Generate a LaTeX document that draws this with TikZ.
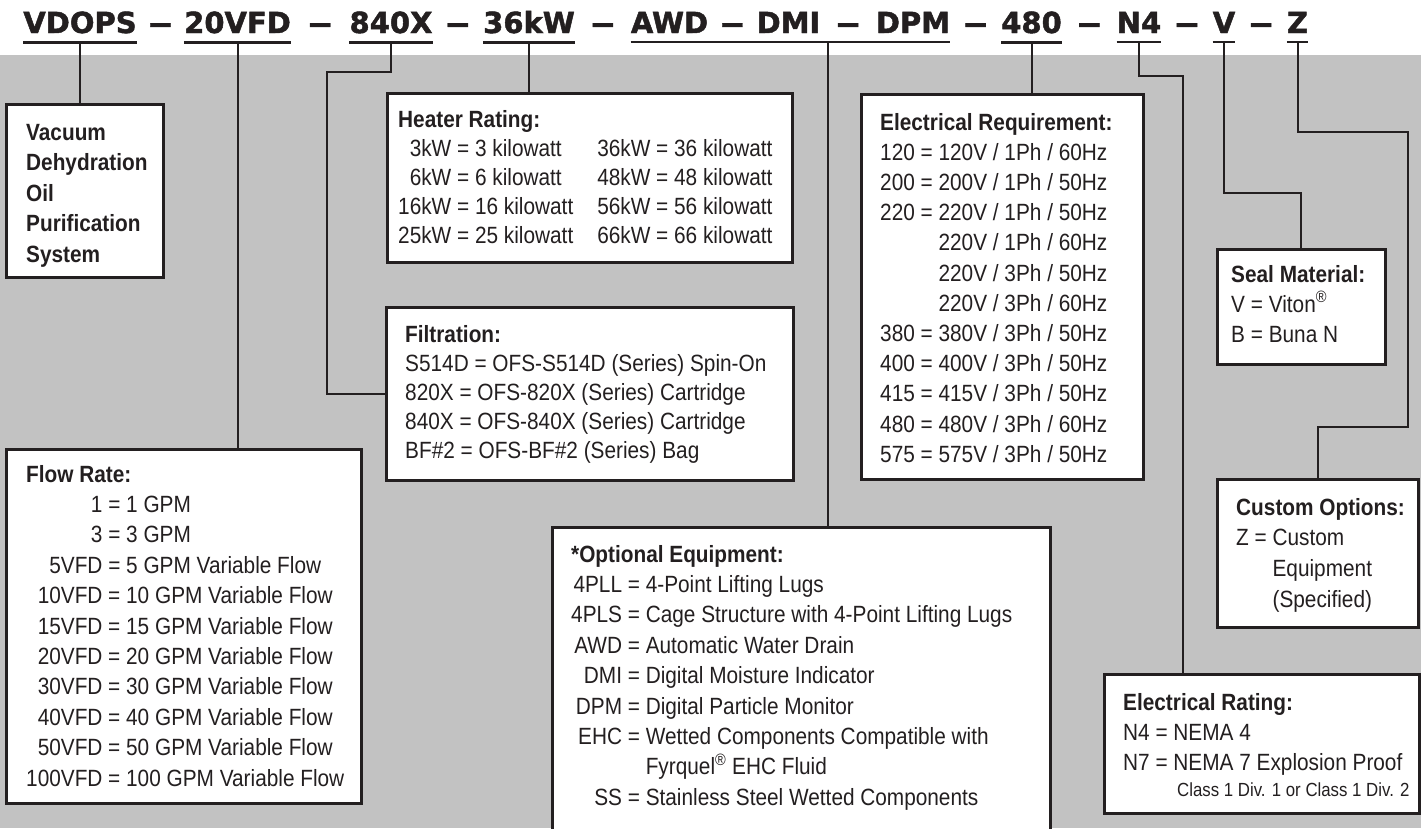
\documentclass[tikz,border=0pt]{standalone}
\usepackage{fontspec}
\usepackage{graphicx}
\setmainfont{Liberation Sans}[FakeStretch=0.885]
\newfontfamily\codefont{DejaVu Sans}[FakeBold=1.6]
\usetikzlibrary{calc,positioning}

\definecolor{ink}{RGB}{35,31,32}
\definecolor{panel}{RGB}{194,194,194}
\newcommand{\rdash}{\scalebox{.78}[1]{—}}
\newcommand{\bodyfont}[1]{\fontsize{23.5}{#1}\selectfont}

\tikzset{
  code/.style={font=\codefont\bfseries\fontsize{29}{30}\selectfont, text=ink, anchor=base, inner xsep=0pt, inner ysep=9pt},
  uline/.style={draw=ink, line width=2.5pt},
  card/.style={draw=ink, line width=2.5pt, fill=white, anchor=north west, inner sep=0pt},
  info/.style={anchor=base west, inner sep=0pt, text=ink},
  wire/.style={draw=ink, line width=2pt},
}

\begin{document}
\begin{tikzpicture}[x=1pt,y=-1pt]
    \useasboundingbox (0,0) rectangle (1421,828);
    \clip (0,0) rectangle (1421,828);
    % graa flade under kodelinjen
    \fill[panel] (0,55) rectangle (1421,828);

    % kodelinjen
    \node[code] (vdops) at (80,33) {VDOPS};
    \node[code] (vfd) at (237.5,33) {20VFD};
    \node[code] (fil) at (391,33) {840X};
    \node[code] (kw) at (529,33) {36kW};
    \node[code] (awd) at (669.5,33) {AWD};
    \node[code] (dmi) at (788.5,33) {DMI};
    \node[code] (dpm) at (913,33) {DPM};
    \node[code] (volt) at (1031.5,33) {480};
    \node[code] (nema) at (1139,33) {N4};
    \node[code] (seal) at (1224,33) {V};
    \node[code] (cust) at (1297.5,33) {Z};
    \foreach \a/\b in {vdops/vfd, vfd/fil, fil/kw, kw/awd, awd/dmi, dmi/dpm, dpm/volt, volt/nema, nema/seal, seal/cust}
      \node[code] (dash-\a) at ($(\a.base east)!.5!(\b.base west)$) {\rdash};
    \foreach \c in {vdops, vfd, fil, kw, volt, nema, seal, cust}
      \draw[uline] (\c.south west) -- (\c.south east);
    \draw[uline] (awd.south west) -- (dpm.south east);

    % kasser
    \node[card, minimum width=157, minimum height=173] (vdbox) at (5,103) {};
    \node[card, minimum width=405, minimum height=169] (heatbox) at (386,92) {};
    \node[card, minimum width=407, minimum height=173] (filbox) at (385,306) {};
    \node[card, minimum width=355, minimum height=354] (flowbox) at (5,448) {};
    \node[card, minimum width=282, minimum height=385] (elecbox) at (860,93) {};
    \node[card, minimum width=168, minimum height=115] (sealbox) at (1216,248) {};
    \node[card, minimum width=201, minimum height=148] (custbox) at (1216,478) {};
    \node[card, minimum width=315, minimum height=139] (ratebox) at (1103,673) {};
    \node[card, minimum width=498, minimum height=330] (optbox) at (551,526) {};

    % tekster i kasserne
    \node[info, font=\bodyfont{30.5}] (vdtxt) at (26,140) {\begin{tabular}[t]{@{}l@{}}
      \textbf{Vacuum}\\ \textbf{Dehydration}\\ \textbf{Oil}\\ \textbf{Purification}\\ \textbf{System}
    \end{tabular}};
    \node[info, font=\bodyfont{29}] (heattxt) at (398,127) {\begin{tabular}[t]{@{}r@{\ }c@{\ }l@{\hspace{24pt}}r@{\ }c@{\ }l@{}}
      \multicolumn{6}{@{}l}{\textbf{Heater Rating:}}\\
      3kW & = & 3 kilowatt & 36kW & = & 36 kilowatt\\
      6kW & = & 6 kilowatt & 48kW & = & 48 kilowatt\\
      16kW & = & 16 kilowatt & 56kW & = & 56 kilowatt\\
      25kW & = & 25 kilowatt & 66kW & = & 66 kilowatt
    \end{tabular}};
    \node[info, font=\bodyfont{29}] (filtxt) at (405,342) {\begin{tabular}[t]{@{}l@{}}
      \textbf{Filtration:}\\
      S514D = OFS-S514D (Series) Spin-On\\
      820X = OFS-820X (Series) Cartridge\\
      840X = OFS-840X (Series) Cartridge\\
      BF\#2 = OFS-BF\#2 (Series) Bag
    \end{tabular}};
    \node[info, font=\bodyfont{30.4}] (flowtxt) at (26,482) {\begin{tabular}[t]{@{}r@{\ }c@{\ }l@{}}
      \multicolumn{3}{@{}l}{\textbf{Flow Rate:}}\\
      1 & = & 1 GPM\\
      3 & = & 3 GPM\\
      5VFD & = & 5 GPM Variable Flow\\
      10VFD & = & 10 GPM Variable Flow\\
      15VFD & = & 15 GPM Variable Flow\\
      20VFD & = & 20 GPM Variable Flow\\
      30VFD & = & 30 GPM Variable Flow\\
      40VFD & = & 40 GPM Variable Flow\\
      50VFD & = & 50 GPM Variable Flow\\
      100VFD & = & 100 GPM Variable Flow
    \end{tabular}};
    \node[info, font=\bodyfont{30.2}] (electxt) at (880,130) {\begin{tabular}[t]{@{}l@{}}
      \textbf{Electrical Requirement:}\\
      120 = 120V / 1Ph / 60Hz\\
      200 = 200V / 1Ph / 50Hz\\
      220 = 220V / 1Ph / 50Hz\\
      \phantom{220 = }220V / 1Ph / 60Hz\\
      \phantom{220 = }220V / 3Ph / 50Hz\\
      \phantom{220 = }220V / 3Ph / 60Hz\\
      380 = 380V / 3Ph / 50Hz\\
      400 = 400V / 3Ph / 50Hz\\
      415 = 415V / 3Ph / 50Hz\\
      480 = 480V / 3Ph / 60Hz\\
      575 = 575V / 3Ph / 50Hz
    \end{tabular}};
    \node[info, font=\bodyfont{30}] (sealtxt) at (1231,282) {\begin{tabular}[t]{@{}l@{}}
      \textbf{Seal Material:}\\
      V = Viton\textsuperscript{®}\\
      B = Buna N
    \end{tabular}};
    \node[info, font=\bodyfont{30.7}] (custtxt) at (1236,515) {\begin{tabular}[t]{@{}l@{}}
      \textbf{Custom Options:}\\
      Z = Custom\\
      \phantom{Z = }Equipment\\
      \phantom{Z = }(Specified)
    \end{tabular}};
    \node[info, font=\bodyfont{30}] (ratetxt) at (1123,710) {\begin{tabular}[t]{@{}l@{}}
      \textbf{Electrical Rating:}\\
      N4 = NEMA 4\\
      N7 = NEMA 7 Explosion Proof\\[-4pt]
      \hspace{54pt}{\fontsize{19}{22}\selectfont Class 1 Div. 1 or Class 1 Div. 2}
    \end{tabular}};
    \node[info, font=\bodyfont{30.4}] (opttxt) at (571,562) {\begin{tabular}[t]{@{}r@{\ }c@{\ }l@{}}
      \multicolumn{3}{@{}l}{\textbf{*Optional Equipment:}}\\
      4PLL & = & 4-Point Lifting Lugs\\
      4PLS & = & Cage Structure with 4-Point Lifting Lugs\\
      AWD & = & Automatic Water Drain\\
      DMI & = & Digital Moisture Indicator\\
      DPM & = & Digital Particle Monitor\\
      EHC & = & Wetted Components Compatible with\\
          &   & Fyrquel\textsuperscript{®} EHC Fluid\\
      SS & = & Stainless Steel Wetted Components
    \end{tabular}};

    % forbindelser fra koden ned til kasserne
    \draw[wire] (vdops.south) -- (vdops.south |- vdbox.north);
    \draw[wire] (vfd.south) -- (vfd.south |- flowbox.north);
    \coordinate (bend840) at (327,72);
    \draw[wire] (fil.south) |- (bend840) |- (filbox.west);
    \draw[wire] (kw.south) -- (kw.south |- heatbox.north);
    \coordinate (optdrop) at ([xshift=7pt]dmi.south east);
    \draw[wire] (optdrop) -- (optdrop |- optbox.north);
    \draw[wire] (volt.south) -- (volt.south |- elecbox.north);
    \coordinate (bendN4) at (1183,76);
    \draw[wire] (nema.south) |- (bendN4) -- (bendN4 |- ratebox.north);
    \draw[wire] (seal.south) |- ($(sealbox.north)+(0,-55)$) -- (sealbox.north);
    \coordinate (bendZ) at (1408,132);
    \draw[wire] (cust.south) |- (bendZ) |- ($(custbox.north)+(0,-51)$) -- (custbox.north);
\end{tikzpicture}
\end{document}
